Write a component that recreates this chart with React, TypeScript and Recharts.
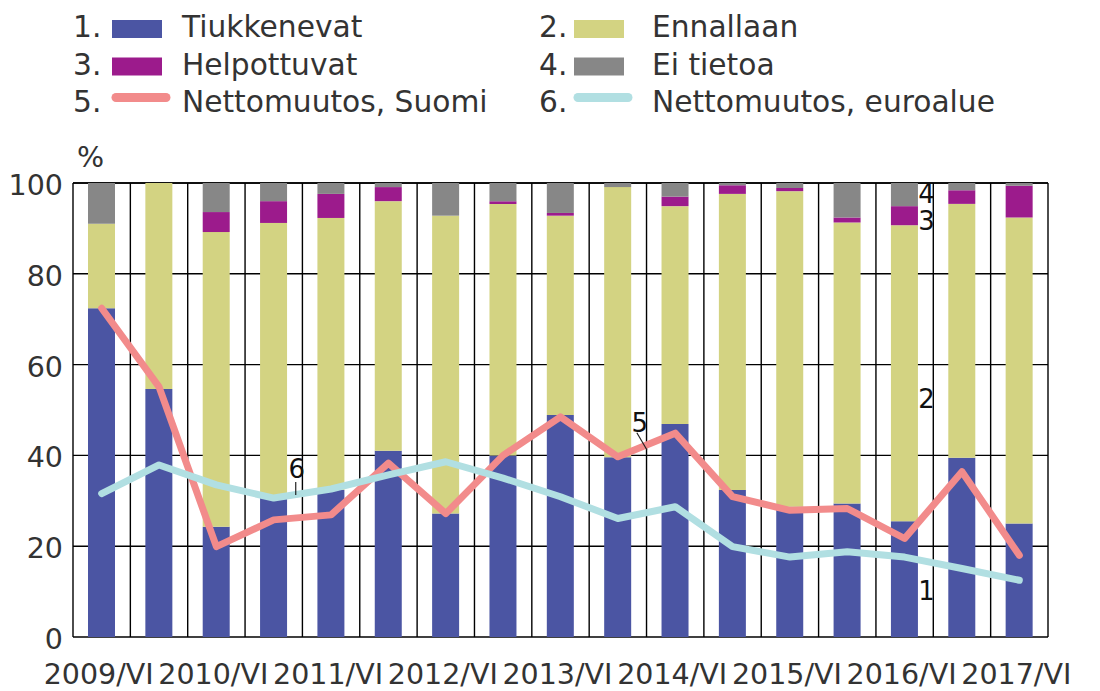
/**
 * Luotonantoehdot: stacked survey shares (tiukkenevat / ennallaan /
 * helpottuvat / ei tietoa) with net-change lines for Finland and the euro area.
 */
import {
	Bar,
	CartesianGrid,
	ComposedChart,
	Line,
	ReferenceDot,
	XAxis,
	YAxis
} from 'recharts'

const categories = [
	'2009/VI', '2009/XII', '2010/VI', '2010/XII', '2011/VI', '2011/XII',
	'2012/VI', '2012/XII', '2013/VI', '2013/XII', '2014/VI', '2014/XII',
	'2015/VI', '2015/XII', '2016/VI', '2016/XII', '2017/VI'
]
const tiukkenevat = [72.4, 54.6, 24.3, 31, 32.4, 41, 27.2, 40, 48.9, 39.6, 46.9, 32.4, 28.7, 29.4, 25.5, 39.5, 25]
const ennallaan = [18.6, 45.4, 64.9, 60.2, 59.9, 55, 65.6, 55.4, 43.9, 59.5, 48, 65.2, 69.5, 61.9, 65.2, 55.9, 67.4]
const helpottuvat = [0, 0, 4.4, 4.8, 5.3, 3.1, 0, 0.6, 0.6, 0, 2.1, 1.9, 0.7, 1.1, 4.2, 3, 7]
const eiTietoa = [9, 0, 6.4, 4, 2.4, 0.9, 7.2, 4, 6.6, 0.9, 3, 0.5, 1.1, 7.6, 5.1, 1.6, 0.6]
const nettoSuomi = [72.4, 55.1, 19.9, 25.8, 26.9, 38.3, 27.2, 40, 48.5, 39.7, 44.9, 30.9, 27.9, 28.3, 21.7, 36.4, 18]
const nettoEuroalue = [31.6, 37.9, 33.5, 30.6, 32.6, 35.7, 38.6, 35, 30.9, 26.1, 28.7, 19.9, 17.6, 18.8, 17.6, 15.1, 12.5]
const yTicks = [0, 20, 40, 60, 80, 100]

const COLORS = {
	tiukkenevat: '#4b55a3',
	ennallaan: '#d3d382',
	helpottuvat: '#9c1b8c',
	eiTietoa: '#878787',
	suomi: '#f28b8b',
	euroalue: '#b1dfe2'
}
const TEXT = '#333333'
const FONT = '"DejaVu Sans", sans-serif'

const data = categories.map((period, i) => ({
	period,
	tiukkenevat: tiukkenevat[i],
	ennallaan: ennallaan[i],
	helpottuvat: helpottuvat[i],
	eiTietoa: eiTietoa[i],
	suomi: nettoSuomi[i],
	euroalue: nettoEuroalue[i]
}))

// series number labels written just right of a bar; optional leader line
// given as pixel offsets from the label baseline
const annotations = [
	{ text: '6', at: '2010/XII', y: 35, dx: 23, leader: [22, 4, 22, 17] },
	{ text: '5', at: '2013/XII', y: 45.2, dx: 22, leader: [19, 1, 29, 18] },
	{ text: '4', at: '2016/VI', y: 95.6, dx: 22 },
	{ text: '3', at: '2016/VI', y: 89.6, dx: 22 },
	{ text: '2', at: '2016/VI', y: 50.4, dx: 22 },
	{ text: '1', at: '2016/VI', y: 8.1, dx: 22 }
]

const legendItems = [
	{ n: '1.', label: 'Tiukkenevat', color: COLORS.tiukkenevat, kind: 'box' },
	{ n: '2.', label: 'Ennallaan', color: COLORS.ennallaan, kind: 'box' },
	{ n: '3.', label: 'Helpottuvat', color: COLORS.helpottuvat, kind: 'box' },
	{ n: '4.', label: 'Ei tietoa', color: COLORS.eiTietoa, kind: 'box' },
	{ n: '5.', label: 'Nettomuutos, Suomi', color: COLORS.suomi, kind: 'line' },
	{ n: '6.', label: 'Nettomuutos, euroalue', color: COLORS.euroalue, kind: 'line' }
]

function LegendBlock() {
	const cols = [
		{ num: 73, sw: 112, txt: 182 },
		{ num: 539, sw: 574, txt: 652 }
	]
	return (
		<svg width={1100} height={130} style={{ position: 'absolute', left: 0, top: 0 }}>
			{legendItems.map((item, i) => {
				const c = cols[i % 2]
				const base = 37 + Math.floor(i / 2) * 37.5
				return (
					<g key={item.label} fontFamily={FONT} fontSize={29.7} fill={TEXT}>
						<text x={c.num} y={base}>{item.n}</text>
						{item.kind === 'box' ? (
							<rect x={c.sw} y={base - 17} width={50} height={18} fill={item.color} />
						) : (
							<line
								x1={c.sw + 4}
								x2={c.sw + 54}
								y1={base - 14.5}
								y2={base - 14.5}
								stroke={item.color}
								strokeWidth={9}
								strokeLinecap="round"
							/>
						)}
						<text x={c.txt} y={base}>{item.label}</text>
					</g>
				)
			})}
		</svg>
	)
}

function YTick({ x, y, payload }: any) {
	return (
		<text x={x} y={y + 12} textAnchor="end" fontFamily={FONT} fontSize={28.5} fill={TEXT}>
			{payload.value}
		</text>
	)
}

function XTick({ x, y, payload }: any) {
	return (
		<text x={x - 3} y={y + 47} textAnchor="middle" fontFamily={FONT} fontSize={28.5} fill={TEXT}>
			{payload.value}
		</text>
	)
}

export default function App() {
	return (
		<div
			style={{
				position: 'absolute',
				left: 0,
				top: 0,
				width: 1100,
				height: 691,
				background: '#fff',
				fontFamily: FONT
			}}
		>
			<LegendBlock />
			<ComposedChart
				width={1100}
				height={691}
				data={data}
				margin={{ top: 183, right: 52, bottom: 24, left: 0 }}
				barSize={27}
			>
				<CartesianGrid
					stroke="#000"
					strokeWidth={1.4}
					verticalCoordinatesGenerator={({ offset }: any) =>
						categories.concat('').map((_, i) => offset.left + (i * offset.width) / categories.length)
					}
				/>
				<XAxis
					dataKey="period"
					interval={1}
					tickLine={false}
					axisLine={false}
					tickSize={0}
					tickMargin={0}
					height={30}
					tick={<XTick />}
				/>
				<YAxis
					domain={[0, 100]}
					ticks={yTicks}
					width={73}
					tickLine={false}
					axisLine={false}
					tickSize={0}
					tickMargin={10}
					tick={<YTick />}
					label={{
						value: '%',
						position: 'insideTopLeft',
						content: ({ viewBox }: any) => (
							<text x={viewBox.x + 77} y={viewBox.y - 16} fontFamily={FONT} fontSize={28.5} fill={TEXT}>
								%
							</text>
						)
					}}
				/>
				<Bar dataKey="tiukkenevat" stackId="a" fill={COLORS.tiukkenevat} isAnimationActive={false} />
				<Bar dataKey="ennallaan" stackId="a" fill={COLORS.ennallaan} isAnimationActive={false} />
				<Bar dataKey="helpottuvat" stackId="a" fill={COLORS.helpottuvat} isAnimationActive={false} />
				<Bar dataKey="eiTietoa" stackId="a" fill={COLORS.eiTietoa} isAnimationActive={false} />
				<Line
					dataKey="suomi"
					type="linear"
					stroke={COLORS.suomi}
					strokeWidth={7}
					strokeLinecap="round"
					strokeLinejoin="round"
					dot={false}
					activeDot={false}
					isAnimationActive={false}
				/>
				<Line
					dataKey="euroalue"
					type="linear"
					stroke={COLORS.euroalue}
					strokeWidth={7}
					strokeLinecap="round"
					strokeLinejoin="round"
					dot={false}
					activeDot={false}
					isAnimationActive={false}
				/>
				{annotations.map((a) => (
					<ReferenceDot
						key={`ann-${a.text}`}
						x={a.at}
						y={a.y}
						r={0}
						ifOverflow="visible"
						shape={(p: any) => (
							<g>
								<text
									x={p.cx + a.dx}
									y={p.cy}
									textAnchor="middle"
									fontFamily={FONT}
									fontSize={26}
									fill="#111"
								>
									{a.text}
								</text>
								{a.leader ? (
									<line
										x1={p.cx + a.leader[0]}
										y1={p.cy + a.leader[1]}
										x2={p.cx + a.leader[2]}
										y2={p.cy + a.leader[3]}
										stroke="#222"
										strokeWidth={1.2}
									/>
								) : null}
							</g>
						)}
					/>
				))}
			</ComposedChart>
		</div>
	)
}
